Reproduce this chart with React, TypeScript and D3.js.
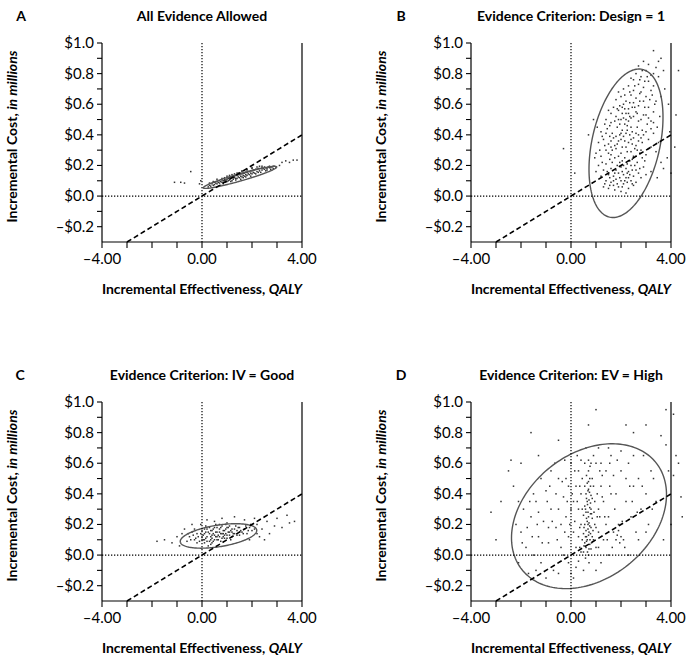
import React from "react";
import * as d3 from "d3";

const panelLetters = ["A", "B", "C", "D"];
const panelTitles = [
  "All Evidence Allowed",
  "Evidence Criterion: Design = 1",
  "Evidence Criterion: IV = Good",
  "Evidence Criterion: EV = High",
];
const xTickValues = [-4, -3, -2, -1, 0, 1, 2, 3, 4];
const xTickLabels: Record<string, string> = { "-4": "\u20134.00", "0": "0.00", "4": "4.00" };
const yTickValues = [-0.2, -0.1, 0, 0.1, 0.2, 0.3, 0.4, 0.5, 0.6, 0.7, 0.8, 0.9, 1.0];
const yTickLabels: Record<string, string> = {
  "-0.2": "\u2013$0.2", "0": "$0.0", "0.2": "$0.2", "0.4": "$0.4", "0.6": "$0.6", "0.8": "$0.8", "1": "$1.0",
};
const xDomain: [number, number] = [-4, 4];
const yDomain: [number, number] = [-0.3, 1.0];
// willingness-to-pay line: $100,000 per QALY (in millions)
const wtpLine: [number, number][] = [[-3, -0.3], [4, 0.4]];

// ellipse: [cx, cy, half-width, half-height, correlation]
const ellipseA = [1.52, 0.122, 1.47, 0.072, 0.94];
const ellipseB = [2.2, 0.345, 1.48, 0.485, 0.35];
const ellipseC = [0.66, 0.125, 1.53, 0.08, 0.45];
const ellipseD = [0.72, 0.254, 3.1, 0.473, 0.3];

const pointsA: [number, number][] = [
  [0.3,0.07],[0.4,0.08],[0.5,0.075],[0.5,0.09],[0.6,0.08],[0.6,0.095],[0.7,0.085],[0.7,0.1],[0.8,0.09],[0.8,0.105],[0.85,0.08],[0.9,0.1],[0.9,0.11],[1.0,0.095],[1.0,0.11],[1.0,0.12],[1.05,0.1],[1.1,0.105],[1.1,0.12],[1.15,0.115],[1.2,0.1],[1.2,0.125],[1.25,0.11],[1.3,0.12],[1.3,0.13],[1.35,0.105],[1.4,0.115],[1.4,0.135],[1.45,0.125],[1.5,0.12],[1.5,0.14],[1.55,0.13],[1.6,0.125],[1.6,0.145],[1.65,0.135],[1.7,0.13],[1.7,0.15],[1.75,0.14],[1.8,0.135],[1.8,0.155],[1.85,0.145],[1.9,0.14],[1.9,0.16],[1.95,0.15],[2.0,0.145],[2.0,0.165],[2.05,0.155],[2.1,0.15],[2.1,0.17],[2.2,0.16],[2.2,0.175],[2.3,0.165],[2.3,0.18],[2.4,0.17],[2.4,0.185],[2.5,0.175],[2.5,0.19],[2.6,0.18],[2.7,0.185],[2.7,0.195],[2.8,0.19],[2.9,0.195],[2.95,0.19],[1.3,0.145],[1.1,0.135],[0.9,0.12],[1.6,0.16],[2.0,0.18],[1.8,0.17],[0.6,0.11],[2.3,0.195],[1.45,0.15],[0.75,0.07],[1.15,0.095],[1.55,0.11],[1.95,0.13],[2.35,0.155],
  [0.35,0.065],[0.45,0.07],[0.55,0.085],[0.65,0.09],[0.75,0.095],[0.85,0.1],[0.95,0.105],[1.05,0.115],[1.15,0.125],[1.25,0.13],[1.35,0.135],[1.45,0.14],[1.55,0.145],[1.65,0.15],[1.75,0.155],[1.85,0.16],[1.95,0.165],[2.05,0.17],[2.15,0.175],[2.25,0.18],[2.45,0.18],[2.55,0.185],[2.65,0.19],[2.75,0.19],[2.85,0.195],[1.2,0.14],[1.4,0.15],[1.6,0.165],[1.8,0.175],[2.0,0.185],[2.2,0.19],[2.4,0.195],[1.0,0.13],[0.8,0.115],[1.25,0.12],[1.65,0.12],[2.15,0.145],[2.55,0.165],[2.75,0.175],[1.35,0.115],[0.95,0.09],[1.75,0.125],[2.25,0.155],[2.6,0.17],[2.85,0.18],[0.45,0.095],[0.3,0.085],[0.25,0.06],
  [-1.1,0.09],[-0.85,0.09],[-0.7,0.085],[-0.45,0.16],[-0.1,0.08],[-0.05,0.1],[3.2,0.22],[3.35,0.23],[3.5,0.22],[3.65,0.235],[3.8,0.235],[3.1,0.2],
];

const pointsB: [number, number][] = [
  [1.3,0.06],[1.5,0.05],[1.7,0.07],[1.9,0.06],[2.1,0.08],[2.3,0.05],[2.5,0.07],[1.4,0.1],[1.6,0.09],[1.8,0.11],[2.0,0.1],[2.2,0.12],[2.4,0.1],[2.6,0.09],[2.8,0.12],[1.2,0.13],[1.5,0.14],[1.7,0.13],[1.9,0.15],[2.1,0.14],[2.3,0.16],[2.5,0.13],[2.7,0.15],[3.0,0.14],[1.3,0.17],[1.6,0.18],[1.8,0.17],[2.0,0.19],[2.2,0.18],[2.4,0.2],[2.6,0.17],[2.9,0.19],[3.2,0.16],[1.1,0.2],[1.4,0.21],[1.65,0.22],[1.85,0.2],[2.05,0.23],[2.25,0.21],[2.45,0.24],[2.65,0.22],[2.85,0.25],[1.75,0.04],[2.0,0.03],[2.2,0.02],[1.55,0.12],[1.95,0.12],[2.15,0.1],[2.35,0.14],[2.55,0.2],
  [1.0,0.28],[1.2,0.26],[1.4,0.3],[1.6,0.27],[1.8,0.31],[2.0,0.28],[2.2,0.32],[2.4,0.29],[2.6,0.33],[2.8,0.3],[3.0,0.27],[3.2,0.32],[1.1,0.35],[1.3,0.37],[1.5,0.34],[1.7,0.38],[1.9,0.36],[2.1,0.39],[2.3,0.35],[2.5,0.38],[2.7,0.36],[2.9,0.4],[3.1,0.37],[3.3,0.41],[1.2,0.42],[1.45,0.44],[1.65,0.41],[1.85,0.45],[2.05,0.43],[2.25,0.46],[2.45,0.42],[2.65,0.45],[2.85,0.43],[3.05,0.47],[1.75,0.33],[1.95,0.4],[2.15,0.36],[2.35,0.4],[1.55,0.39],[2.55,0.31],[2.75,0.28],[3.4,0.29],[3.5,0.35],[3.6,0.22],[3.7,0.18],[3.45,0.12],
  [1.4,0.5],[1.6,0.48],[1.8,0.52],[2.0,0.5],[2.2,0.54],[2.4,0.51],[2.6,0.55],[2.8,0.5],[3.0,0.53],[3.2,0.49],[1.5,0.56],[1.7,0.58],[1.9,0.56],[2.1,0.6],[2.3,0.57],[2.5,0.61],[2.7,0.59],[2.9,0.62],[3.1,0.58],[3.3,0.55],[1.8,0.63],[2.0,0.65],[2.2,0.62],[2.4,0.66],[2.6,0.64],[2.8,0.68],[3.0,0.65],[3.2,0.69],[3.4,0.62],[2.1,0.7],[2.3,0.72],[2.5,0.69],[2.7,0.73],[2.9,0.71],[3.1,0.75],[3.3,0.72],[2.15,0.47],[2.35,0.52],[1.95,0.59],[2.45,0.58],[2.05,0.54],
  [2.4,0.77],[2.6,0.8],[2.8,0.78],[3.0,0.82],[3.2,0.79],[3.4,0.84],[2.7,0.85],[2.9,0.88],[3.5,0.88],[3.3,0.95],[3.6,0.9],[3.5,0.78],[3.7,0.82],[3.75,0.7],
  [1.35,0.08],[1.55,0.07],[1.85,0.08],[2.05,0.06],[2.25,0.09],[2.45,0.08],[1.45,0.16],[1.75,0.15],[2.05,0.16],[2.25,0.15],[2.45,0.17],[2.75,0.18],[1.25,0.22],[1.55,0.24],[1.75,0.25],[1.95,0.22],[2.15,0.25],[2.35,0.23],[2.6,0.26],[2.95,0.23],[1.15,0.3],[1.35,0.33],[1.65,0.3],[1.85,0.34],[2.05,0.32],[2.25,0.29],[2.45,0.34],[2.65,0.3],[2.85,0.35],[3.1,0.31],[1.25,0.39],[1.4,0.41],[1.6,0.36],[1.8,0.39],[2.0,0.37],[2.2,0.41],[2.4,0.37],[2.6,0.41],[2.8,0.38],[3.0,0.42],[3.2,0.44],[1.35,0.47],[1.55,0.46],[1.75,0.49],[1.95,0.47],[2.1,0.51],[2.3,0.49],[2.5,0.52],[2.7,0.49],[2.9,0.53],[3.1,0.51],[3.3,0.48],[1.6,0.54],[1.85,0.57],[2.15,0.57],[2.35,0.61],[2.55,0.58],[2.75,0.62],[2.95,0.58],[3.15,0.63],[1.9,0.68],[2.15,0.66],[2.35,0.68],[2.55,0.72],[2.75,0.67],[2.95,0.75],[3.25,0.66],[2.5,0.76],[2.75,0.76],[3.05,0.78],[3.3,0.8],[2.85,0.82],[3.1,0.86],[1.9,0.26],[2.1,0.2],[1.7,0.1],[2.3,0.12],[2.5,0.26],[2.0,0.41],[2.25,0.43],[2.4,0.45],[2.2,0.5],[1.9,0.5],[2.3,0.54],[2.05,0.58],[1.6,0.32],[1.5,0.28],[2.7,0.4],[2.65,0.54],[3.35,0.6],[3.45,0.45],[3.55,0.52],[3.6,0.65],[0.7,0.4],[1.05,0.45],[1.0,0.16],[0.95,0.25],
  [4.3,0.82],[4.2,0.53],[4.15,0.32],[3.95,0.42],[-0.3,0.31],[0.15,0.15],[0.9,0.5],[4.0,0.15],[3.9,0.6],[3.85,0.25],
];

const pointsC: [number, number][] = [
  [-0.5,0.12],[-0.3,0.1],[-0.2,0.14],[-0.1,0.09],[0.0,0.12],[0.0,0.16],[0.1,0.1],[0.1,0.14],[0.2,0.12],[0.2,0.17],[0.3,0.09],[0.3,0.14],[0.4,0.11],[0.4,0.16],[0.5,0.13],[0.5,0.18],[0.6,0.1],[0.6,0.15],[0.7,0.12],[0.7,0.17],[0.8,0.14],[0.8,0.19],[0.9,0.11],[0.9,0.16],[1.0,0.13],[1.0,0.18],[1.1,0.15],[1.2,0.12],[1.2,0.17],[1.3,0.14],[1.4,0.16],[1.5,0.13],[1.5,0.18],[1.6,0.15],[1.7,0.17],[1.8,0.14],[1.9,0.18],[2.0,0.16],[-0.4,0.15],[-0.6,0.09],[-0.2,0.08],[0.15,0.19],[0.35,0.07],[0.55,0.2],[0.75,0.09],[0.95,0.2],[1.15,0.1],[1.35,0.19],[-0.05,0.2],[0.25,0.06],[0.45,0.09],[0.65,0.13],[0.85,0.12],[1.05,0.15],[1.25,0.14],[0.05,0.13],[0.35,0.12],[0.6,0.12],[0.75,0.14],[0.95,0.14],[0.15,0.11],[0.45,0.14],
  [-0.45,0.1],[-0.35,0.13],[-0.25,0.11],[-0.15,0.12],[-0.05,0.14],[0.05,0.1],[0.1,0.17],[0.2,0.09],[0.25,0.15],[0.3,0.18],[0.35,0.1],[0.4,0.13],[0.45,0.17],[0.5,0.1],[0.55,0.15],[0.6,0.18],[0.65,0.1],[0.7,0.15],[0.75,0.18],[0.8,0.11],[0.85,0.16],[0.9,0.13],[0.95,0.17],[1.0,0.11],[1.05,0.18],[1.1,0.13],[1.15,0.16],[1.2,0.15],[1.3,0.17],[1.4,0.13],[1.45,0.18],[1.55,0.16],[1.65,0.14],[1.75,0.19],[1.85,0.16],[0.0,0.1],[0.15,0.15],[0.35,0.16],[0.55,0.12],[0.85,0.14],[-0.3,0.17],[-0.55,0.14],[0.1,0.08],[0.4,0.08],[0.7,0.2],[1.1,0.19],[2.1,0.17],[2.2,0.14],[1.95,0.2],
  [-1.8,0.09],[-1.5,0.1],[-1.2,0.08],[-1.0,0.12],[-0.8,0.14],[-0.9,0.06],[-0.7,0.17],[0.5,0.22],[0.8,0.24],[1.0,0.21],[1.3,0.25],[1.7,0.23],[2.2,0.2],[2.4,0.17],[2.6,0.22],[2.7,0.14],[2.9,0.19],[3.0,0.24],[3.2,0.18],[3.4,0.26],[3.5,0.21],[3.7,0.22],[2.3,0.12],[2.1,0.24],[-0.4,0.2],[0.2,0.23],[1.9,0.1],[2.5,0.1],
];

const pointsD: [number, number][] = [
  [0.5,0.02],[0.6,0.05],[0.7,0.0],[0.8,0.04],[0.55,0.08],[0.65,0.1],[0.75,0.07],[0.85,0.12],[0.5,0.14],[0.6,0.16],[0.7,0.13],[0.8,0.18],[0.55,0.2],[0.65,0.22],[0.75,0.19],[0.85,0.24],[0.5,0.26],[0.6,0.28],[0.7,0.25],[0.8,0.3],[0.55,0.32],[0.65,0.35],[0.75,0.31],[0.85,0.37],[0.6,0.4],[0.7,0.43],[0.8,0.39],[0.65,0.47],[0.75,0.5],[0.7,0.55],[0.72,0.15],[0.68,0.2],[0.78,0.27],[0.62,0.12],[0.58,-0.02],[0.72,-0.05],[0.66,0.33],[0.74,0.41],[0.9,0.1],[0.95,0.2],
  [0.52,0.06],[0.62,0.09],[0.72,0.04],[0.82,0.08],[0.58,0.12],[0.68,0.17],[0.78,0.14],[0.52,0.18],[0.62,0.24],[0.72,0.21],[0.82,0.27],[0.58,0.3],[0.68,0.28],[0.78,0.34],[0.62,0.37],[0.72,0.36],[0.68,0.42],[0.78,0.45],[0.7,0.48],[0.62,0.52],[0.76,0.58],[0.7,0.62],[0.66,0.02],[0.76,0.1],[0.88,0.16],[0.92,0.28],[0.45,0.1],[0.45,0.3],[0.4,0.02],[0.35,0.18],
  [-2.0,0.15],[-1.8,0.05],[-1.6,0.25],[-1.5,0.0],[-1.4,0.35],[-1.3,0.12],[-1.2,-0.05],[-1.1,0.22],[-1.0,0.42],[-0.9,0.08],[-0.8,0.3],[-0.7,-0.1],[-0.6,0.18],[-0.5,0.5],[-0.4,0.05],[-0.3,0.38],[-0.2,0.25],[-0.1,-0.05],[0.0,0.6],[0.1,0.15],[0.2,0.45],[0.3,0.3],[0.35,0.05],[0.4,0.2],[0.1,0.35],[-0.1,0.12],[0.2,-0.08],[0.3,0.55],[1.0,0.6],[1.1,0.3],[1.2,0.45],[1.3,0.1],[1.4,0.55],[1.5,0.25],[1.6,0.65],[1.7,0.15],[1.8,0.4],[1.9,0.2],[2.0,0.55],[2.1,0.1],[2.2,0.35],[2.3,0.6],[2.4,0.25],[2.5,0.45],[2.6,0.15],[2.7,0.5],[2.8,0.3],[3.0,0.4],[3.1,0.2],[3.2,0.55],[3.4,0.35],[1.0,0.05],[1.2,-0.05],[1.5,0.0],[1.8,0.1],[1.85,0.13],[1.9,0.16],[1.95,0.08],[2.0,0.12],[1.1,0.7],[0.4,0.62],[-0.2,0.5],[-0.6,0.4],[1.3,0.35],[1.0,0.18],[0.3,0.12],[-0.5,0.3],[-1.5,0.4],[-1.9,0.3],[-2.2,0.2],[-2.1,-0.05],[-1.7,-0.12],[-1.0,-0.15],[0.0,-0.12],[0.5,-0.1],[1.5,0.7],[2.0,0.68],[2.5,0.65],[0.8,0.6],[-0.8,0.55],[-1.2,0.5],[0.9,0.45],[1.1,0.15],[0.4,0.4],[0.2,0.05],[-0.3,0.0],[1.6,0.4],[2.3,0.0],[2.7,0.1],[3.0,0.15],[3.3,0.5],[2.9,0.65],[1.4,0.2],[1.2,0.6],[0.0,0.3],[-0.4,0.2],[-0.9,0.18],[-1.3,0.28],[0.6,0.7],[0.9,0.65],[-0.1,0.45],[1.7,0.52],[2.2,0.5],[0.3,-0.04],[0.45,0.5],[1.05,0.4],[1.35,0.25],[0.15,0.22],[-0.25,0.15],
  [1.1,0.05],[1.15,0.25],[1.25,0.38],[1.45,0.1],[1.55,0.45],[1.75,0.3],[1.65,0.05],[2.05,0.22],[2.15,0.05],[2.45,0.35],[2.65,0.28],[2.85,0.45],[3.25,0.3],[-0.15,0.35],[-0.35,0.48],[-0.55,0.1],[-0.75,0.22],[-0.95,0.35],[-1.15,0.08],[-1.35,0.2],[-1.55,0.12],[-1.75,0.18],[-1.95,0.08],[-0.65,0.6],[-0.25,0.62],[0.15,0.55],[0.25,0.65],[0.55,0.6],[1.25,0.52],[1.55,0.6],[1.85,0.62],[2.35,0.45],[0.05,0.4],[-0.05,0.2],[0.25,0.35],[0.35,0.45],[1.15,0.55],[0.95,0.35],[1.05,0.25],[-1.65,0.35],[-2.1,0.35],[-0.85,0.45],[0.1,-0.15],[-0.5,-0.12],[1.0,-0.1],[-1.4,-0.1],[0.55,0.45],[0.85,0.5],
  [-3.0,0.1],[-2.8,0.35],[-2.5,0.55],[-2.4,0.62],[-2.0,0.6],[-1.6,0.8],[-0.5,0.75],[0.7,0.85],[1.0,0.95],[2.5,0.8],[3.0,0.85],[3.6,0.78],[3.8,0.72],[3.9,0.55],[4.1,0.92],[4.3,0.6],[4.4,0.38],[4.45,0.25],[4.1,0.52],[3.7,0.1],[4.0,0.2],[3.8,0.95],[2.2,0.85],[-1.3,0.65],[-2.3,0.45],[-3.2,0.28],[4.2,0.65],
];

const panelPoints = [pointsA, pointsB, pointsC, pointsD];
const panelEllipses = [ellipseA, ellipseB, ellipseC, ellipseD];

const FONT = "Lato, 'Open Sans', sans-serif";
const W = 200;
const H = 199;
const origins: [number, number][] = [[102, 43], [471, 43], [102, 402], [471, 402]];
const letterOffsets = [-81, -70, -82, -70];

function Panel({ idx }: { idx: number }) {
  const [ox, oy] = origins[idx];
  const x = d3.scaleLinear().domain(xDomain).range([0, W]);
  const y = d3.scaleLinear().domain(yDomain).range([H, 0]);
  const [cx, cy, rx, ry, rho] = panelEllipses[idx];
  const phi = Math.acos(rho);
  const ts = d3.range(0, 2 * Math.PI + 0.001, Math.PI / 90);
  const ellipsePath = d3.line<number>()
    .x((t) => x(cx + rx * Math.cos(t)))
    .y((t) => y(cy + ry * Math.cos(t - phi)))(ts) as string;
  const wtp = d3.line<[number, number]>().x((d) => x(d[0])).y((d) => y(d[1]))(wtpLine) as string;
  return (
    <g transform={`translate(${ox},${oy})`}>
      <text x={letterOffsets[idx]} y={-26} fontFamily={FONT} fontWeight={700} fontSize={14} textAnchor="middle" dominantBaseline="middle">{panelLetters[idx]}</text>
      <text x={W / 2} y={-26} fontFamily={FONT} fontWeight={700} fontSize={14} textAnchor="middle" dominantBaseline="middle">{panelTitles[idx]}</text>
      {panelPoints[idx].map((p, i) => (
        <rect key={i} x={x(p[0]) - 0.75} y={y(p[1]) - 0.75} width={1.5} height={1.5} fill="#333" />
      ))}
      <path d={ellipsePath} fill="none" stroke="#555" strokeWidth={1.4} />
      <line x1={x(0)} x2={x(0)} y1={0} y2={H} stroke="#000" strokeWidth={1.2} strokeDasharray="1.3,1.7" />
      <line x1={0} x2={W} y1={y(0)} y2={y(0)} stroke="#000" strokeWidth={1.2} strokeDasharray="1.3,1.7" />
      <path d={wtp} fill="none" stroke="#000" strokeWidth={1.6} strokeDasharray="5,3" />
      <line x1={0} x2={0} y1={0} y2={H} stroke="#000" strokeWidth={1.2} />
      <line x1={W} x2={W} y1={0} y2={H} stroke="#000" strokeWidth={1.2} />
      <line x1={0} x2={W} y1={H} y2={H} stroke="#000" strokeWidth={1.2} />
      {xTickValues.map((v) => (
        <g key={v}>
          <line x1={x(v)} x2={x(v)} y1={H} y2={H + 6} stroke="#000" strokeWidth={1.1} />
          {xTickLabels[String(v)] && (
            <text x={x(v)} y={H + 22} fontFamily={FONT} fontSize={15} textAnchor="middle">{xTickLabels[String(v)]}</text>
          )}
        </g>
      ))}
      {yTickValues.map((v) => {
        const key = String(Math.round(v * 10) / 10);
        return (
          <g key={v}>
            <line x1={-5} x2={0} y1={y(v)} y2={y(v)} stroke="#000" strokeWidth={1.1} />
            {yTickLabels[key] && (
              <text x={-8} y={y(v) + 5} fontFamily={FONT} fontSize={15} textAnchor="end">{yTickLabels[key]}</text>
            )}
          </g>
        );
      })}
      <text x={W / 2} y={H + 52} fontFamily={FONT} fontWeight={700} fontSize={14} textAnchor="middle">
        Incremental Effectiveness, <tspan fontStyle="italic">QALY</tspan>
      </text>
      <text transform={`translate(${-85},${H / 2 - 6}) rotate(-90)`} fontFamily={FONT} fontWeight={700} fontSize={14} textAnchor="middle">
        Incremental Cost, <tspan fontStyle="italic">in millions</tspan>
      </text>
    </g>
  );
}

export default function App() {
  return (
    <svg width={694} height={665} style={{ position: "absolute", left: 0, top: 0, background: "#fff" }}>
      <rect width={694} height={665} fill="#fff" />
      {[0, 1, 2, 3].map((i) => <Panel key={i} idx={i} />)}
    </svg>
  );
}
